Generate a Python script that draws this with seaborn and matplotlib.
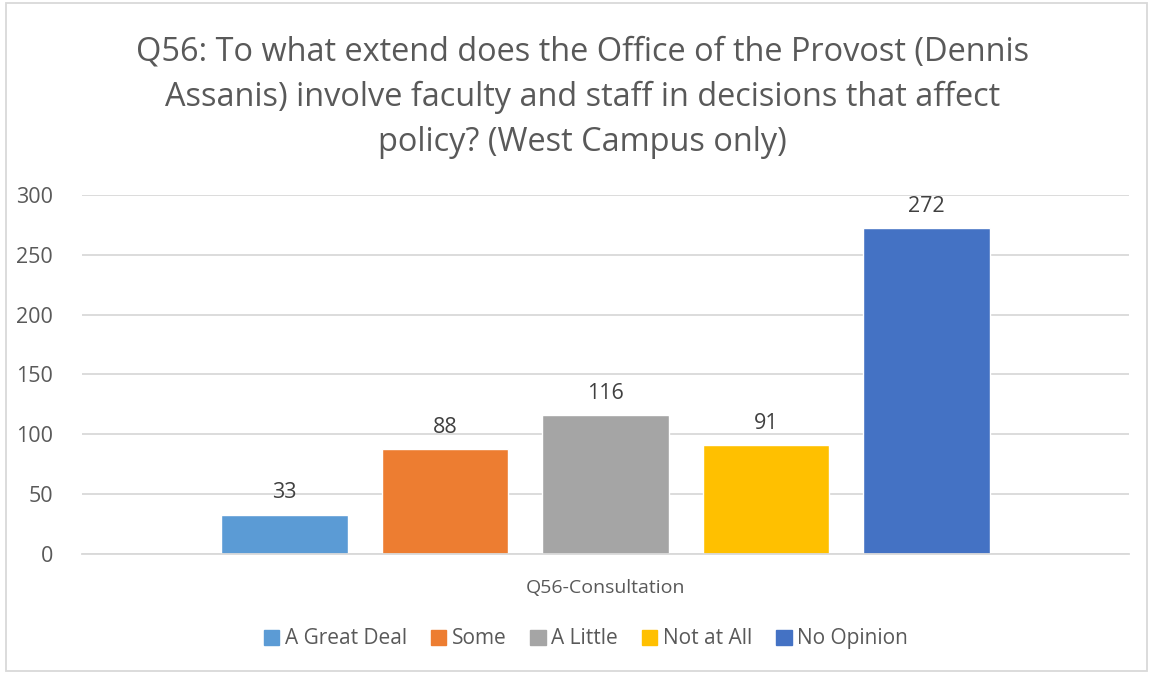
import pandas as pd
import matplotlib.pyplot as plt
import seaborn as sns
from matplotlib.patches import Rectangle

# --- data ---
question = ['Q56-Consultation']
responses = ['A Great Deal', 'Some', 'A Little', 'Not at All', 'No Opinion']
counts = [33, 88, 116, 91, 272]
colors = ['#5B9BD5', '#ED7D31', '#A5A5A5', '#FFC000', '#4472C4']

title = ('Q56: To what extend does the Office of the Provost (Dennis\n'
         'Assanis) involve faculty and staff in decisions that affect\n'
         'policy? (West Campus only)')

df = pd.DataFrame({'question': question * len(responses),
                   'response': responses,
                   'count': counts})

sns.set_theme(style='white')
plt.rcParams['font.family'] = ['Open Sans', 'DejaVu Sans']
text_col = '#595959'
grid_col = '#D9D9D9'

fig = plt.figure(figsize=(11.53, 6.74), dpi=100)
ax = fig.add_axes([0.0711, 0.178, 0.9080, 0.5329])

sns.barplot(data=df, x='question', y='count', hue='response',
            hue_order=responses, palette=colors, width=0.7665, gap=0.21,
            saturation=1, ax=ax, legend=False)

ax.set_ylim(0, 300)
ax.set_xlim(-0.5, 0.5)
ax.set_yticks(range(0, 301, 50))
ax.yaxis.grid(True, color=grid_col, linewidth=1.3)
ax.set_axisbelow(True)
for s in ['left', 'right', 'top']:
    ax.spines[s].set_visible(False)
ax.spines['bottom'].set_color(grid_col)
ax.spines['bottom'].set_linewidth(1.3)
ax.tick_params(axis='x', length=0, labelsize=14, colors=text_col, pad=18)
ax.tick_params(axis='y', length=0, labelsize=15.5, colors=text_col, pad=21)
ax.set_xlabel('')
ax.set_ylabel('')

for cont in ax.containers:
    ax.bar_label(cont, padding=8, fontsize=15.5, color='#404040')

# chart title, centred on the chart area like the original
fig.text(0.505, 1 - 35 / 674, title, ha='center', va='top', fontsize=23.4,
         color=text_col, linespacing=1.5)

handles = [Rectangle((0, 0), 1, 1, color=c) for c in colors]
fig.legend(handles, responses, loc='center', bbox_to_anchor=(0.508, 0.052),
           ncol=5, frameon=False, fontsize=15, labelcolor=text_col,
           handlelength=0.75, handleheight=0.75, handletextpad=0.25,
           columnspacing=1.15)

fig.patches.append(Rectangle((0.005, 0.005), 0.99, 0.99, transform=fig.transFigure,
                             fill=False, edgecolor=grid_col, linewidth=1.3))

fig.savefig('out.png', dpi=100)
